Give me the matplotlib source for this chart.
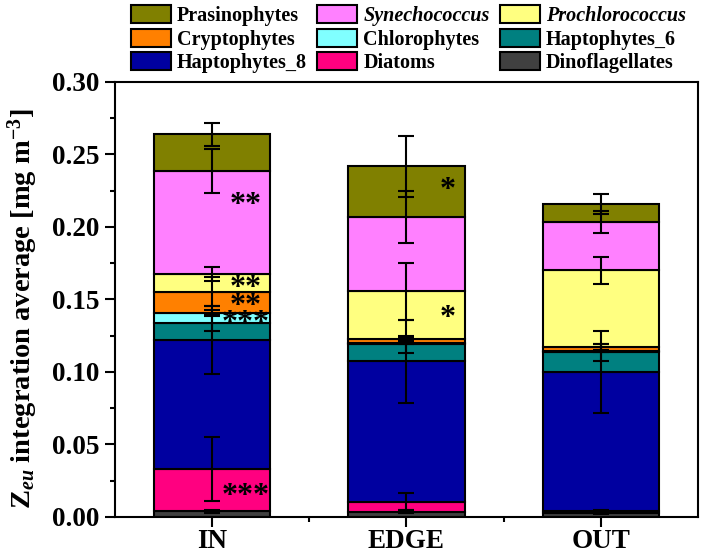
import numpy as np
import matplotlib
matplotlib.use("Agg")
import matplotlib.pyplot as plt
import matplotlib.transforms as mtransforms
from matplotlib.ticker import MultipleLocator, FixedLocator

plt.rcParams['font.family'] = ['Liberation Serif', 'DejaVu Serif']
plt.rcParams['font.weight'] = 'bold'
plt.rcParams['mathtext.fontset'] = 'custom'
plt.rcParams['mathtext.rm'] = 'Liberation Serif:bold'
plt.rcParams['mathtext.it'] = 'Liberation Serif:italic:bold'
plt.rcParams['mathtext.bf'] = 'Liberation Serif:bold'

# ---- data ----
sites = ["IN", "EDGE", "OUT"]
groups = ["Dinoflagellates", "Diatoms", "Haptophytes_8", "Haptophytes_6",
          "Chlorophytes", "Cryptophytes", "Prochlorococcus", "Synechococcus",
          "Prasinophytes"]
colors = ["#404040", "#FF0080", "#0000A0", "#008080", "#80FFFF",
          "#FF8000", "#FFFF80", "#FF80FF", "#808000"]

dino      = [0.0040, 0.0035, 0.0030]
diatoms   = [0.0290, 0.0070, 0.0010]
hapto8    = [0.0890, 0.0969, 0.0960]
hapto6    = [0.0120, 0.0116, 0.0135]
chloro    = [0.0069, 0.0010, 0.0010]
crypto    = [0.0146, 0.0030, 0.0030]
prochloro = [0.0122, 0.0328, 0.0525]
synecho   = [0.0707, 0.0509, 0.0337]
prasino   = [0.0256, 0.0353, 0.0122]

err_dino      = [0.0010, 0.0010, 0.0010]
err_diatoms   = [0.0220, 0.0060, 0.0005]
err_hapto8    = [0.0235, 0.0285, 0.0285]
err_hapto6    = [0.0060, 0.0060, 0.0060]
err_chloro    = [0.0020, 0.0010, 0.0010]
err_crypto    = [0.0100, 0.0010, 0.0020]
err_prochloro = [0.0050, 0.0197, 0.0090]
err_synecho   = [0.0152, 0.0180, 0.0075]
err_prasino   = [0.0080, 0.0210, 0.0070]

sig_labels = ["**", "**", "**", "***", "***", "*", "*"]
sig_site   = [0, 0, 0, 0, 0, 1, 1]
sig_y      = [0.2180, 0.1610, 0.1487, 0.1370, 0.0174, 0.2285, 0.1404]

values = [dino, diatoms, hapto8, hapto6, chloro, crypto, prochloro, synecho, prasino]
errors = [err_dino, err_diatoms, err_hapto8, err_hapto6, err_chloro, err_crypto,
          err_prochloro, err_synecho, err_prasino]

# ---- figure ----
fig = plt.figure(figsize=(7.01, 5.54), dpi=100)
ax = fig.add_axes([0.164, 0.0668, 0.8317, 0.7852])

x = np.arange(1, len(sites) + 1)
bottom = np.zeros(len(sites))
handles = {}
for name, col, vals, errs in zip(groups, colors, values, errors):
    vals = np.array(vals)
    b = ax.bar(x, vals, width=0.6, bottom=bottom, color=col, edgecolor='black',
               linewidth=1.5, zorder=2, label=name)
    handles[name] = b
    top = bottom + vals
    ax.errorbar(x, top, yerr=errs, fmt='none', ecolor='black', elinewidth=1.5,
                capsize=6, capthick=1.5, zorder=4)
    bottom = top

star_tr = mtransforms.offset_copy(ax.transData, fig=fig, x=0, y=-5, units='dots')
for lab, s, yv in zip(sig_labels, sig_site, sig_y):
    ax.text(x[s] + 0.17 + (0.04 if lab == "*" else 0), yv, lab, ha='center',
            va='center', fontsize=23, fontweight='bold', zorder=5,
            transform=star_tr)

ax.set_xlim(0.5, 3.5)
ax.set_ylim(0, 0.30)
ax.set_xticks(x)
ax.set_xticklabels(sites)
ax.xaxis.set_minor_locator(FixedLocator([1.5, 2.5]))
ax.yaxis.set_major_locator(MultipleLocator(0.05))
ax.yaxis.set_minor_locator(MultipleLocator(0.025))
ax.yaxis.set_major_formatter(matplotlib.ticker.FormatStrFormatter('%.2f'))
ax.tick_params(axis='both', which='major', direction='out', length=7, width=1.5,
               labelsize=19.5, pad=4)
ax.tick_params(axis='x', which='major', pad=2)
ax.tick_params(axis='both', which='minor', direction='out', length=3.5, width=1.5)
for lbl in ax.get_xticklabels() + ax.get_yticklabels():
    lbl.set_fontweight('bold')
for sp in ax.spines.values():
    sp.set_linewidth(1.5)

ax.set_ylabel(r"Z$_{\mathit{eu}}$ integration average [mg m$^{\mathbf{-3}}$]",
              fontsize=20.5, fontweight='bold')
ax.yaxis.set_label_coords(-0.128, 0.48)

order = ["Prasinophytes", "Cryptophytes", "Haptophytes_8",
         "Synechococcus", "Chlorophytes", "Diatoms",
         "Prochlorococcus", "Haptophytes_6", "Dinoflagellates"]
leg = fig.legend([handles[n] for n in order], order, ncol=3,
                 loc='upper left', bbox_to_anchor=(0.169, 1.012),
                 frameon=False, fontsize=14.5, handlelength=2.0,
                 handleheight=1.0, handletextpad=0.3, columnspacing=0.5,
                 labelspacing=0.12, borderpad=0.1)
for t in leg.get_texts():
    t.set_fontweight('bold')
    if t.get_text() in ("Synechococcus", "Prochlorococcus"):
        t.set_fontstyle('italic')

fig.savefig("out.png", dpi=100)
